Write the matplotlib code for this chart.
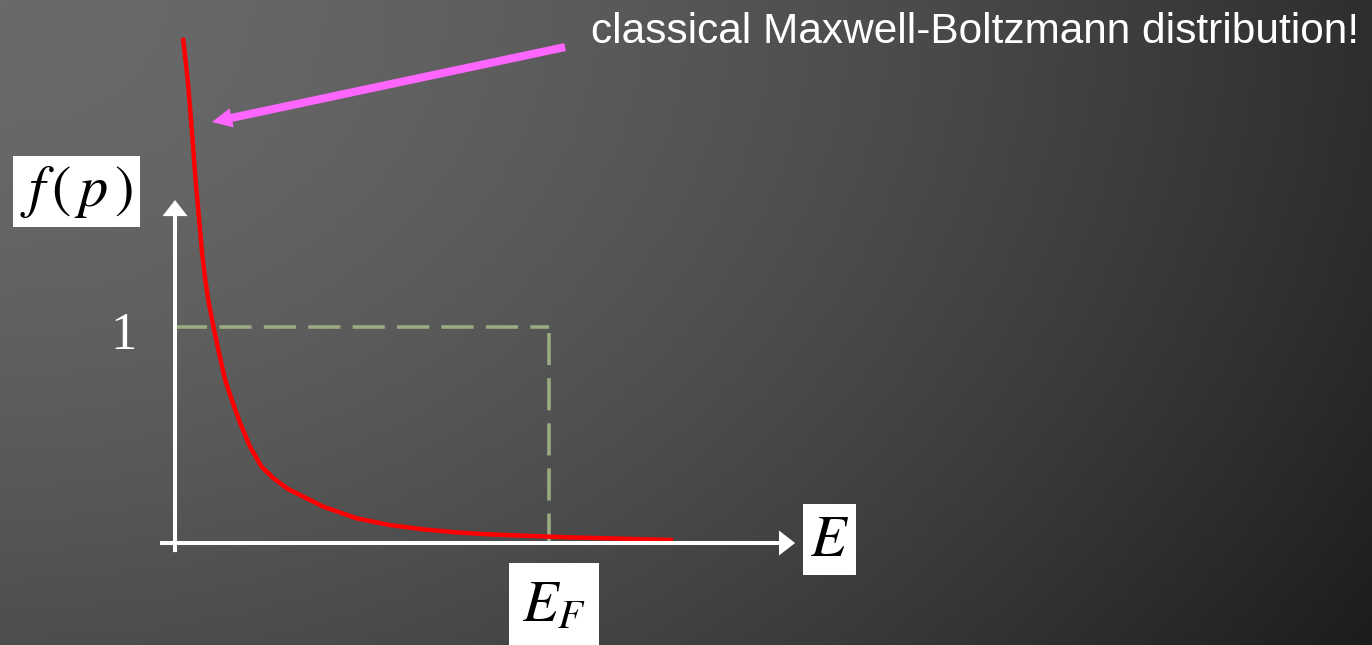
import numpy as np
import matplotlib.pyplot as plt

plt.rcParams['mathtext.fontset'] = 'stix'

# curve: energy in units of E_F, occupation f
energy = [0.022, 0.034, 0.045, 0.055, 0.067, 0.073, 0.081, 0.089, 0.103, 0.116,
          0.134, 0.152, 0.174, 0.201, 0.232, 0.263, 0.302, 0.397, 0.486, 0.575,
          0.664, 0.753, 0.842, 0.931, 1.056, 1.326]
occupation = [2.329, 2.144, 1.912, 1.681, 1.449, 1.333, 1.218, 1.125, 1.000, 0.894,
              0.755, 0.662, 0.556, 0.444, 0.352, 0.300, 0.250, 0.168, 0.114, 0.083,
              0.063, 0.049, 0.040, 0.034, 0.026, 0.014]
fermi_energy = 1.0
fermi_level = 1.0
title = 'classical Maxwell-Boltzmann distribution!'

fig = plt.figure(figsize=(13.72, 6.45), dpi=100)

# background gradient (slide style)
bg = fig.add_axes([0, 0, 1, 1])
xx, yy = np.meshgrid(np.linspace(0, 1, 400), np.linspace(0, 1, 200))
r = np.sqrt(xx**2 + 0.393 * yy**2)
shade = (106 - 60 * r**1.585) / 255.0
shade = np.clip(shade, 0.1, 1)
bg.imshow(np.dstack([shade, shade, shade]), aspect='auto', extent=[0, 1, 1, 0])
bg.set_xlim(0, 1)
bg.set_ylim(1, 0)
bg.axis('off')

ax = fig.add_axes([0, 0, 1, 1])
ax.patch.set_alpha(0)
ax.set_xlim(-0.4679, 3.2005)
ax.set_ylim(-0.4722, 2.5139)
ax.axis('off')

# axes with arrow heads
axis_arrow = dict(arrowstyle='simple,head_length=0.58,head_width=0.9,tail_width=0.145',
                  mutation_scale=20, fc='white', ec='white', lw=0,
                  shrinkA=0, shrinkB=0)
ax.annotate('', xy=(1.658, 0), xytext=(-0.04, 0), arrowprops=axis_arrow)
ax.annotate('', xy=(0, 1.588), xytext=(0, -0.042), arrowprops=axis_arrow)

# dashed box for the step at E_F
ax.plot([0, fermi_energy], [fermi_level, fermi_level], color='#9aab82', lw=2.6,
        dashes=(8.9, 3.4))
ax.plot([fermi_energy, fermi_energy], [fermi_level - 0.03, 0], color='#9aab82', lw=2.6,
        dashes=(8.9, 3.6))

# the distribution
ax.plot(energy, occupation, color='#ff0000', lw=3.2, solid_joinstyle='round')

# pink pointer
ax.annotate('', xy=(0.099, 1.949), xytext=(1.043, 2.296),
            arrowprops=dict(arrowstyle='simple,head_length=0.72,head_width=0.7,tail_width=0.29',
                            mutation_scale=20, fc='#ff66ff', ec='#ff66ff', lw=0,
                            shrinkA=0, shrinkB=0))

ax.text(1.1136, 2.315, title, color='white', fontsize=30.5,
        family='Liberation Sans', ha='left', va='baseline')

# labels in white boxes
box = dict(boxstyle='square,pad=0.12', fc='white', ec='none')
ax.text(-0.263, 1.627, r'$f\,(\,p\,)$', fontsize=42, color='black',
        ha='center', va='center', bbox=box)
ax.text(1.749, 0.0185, r'$E$', fontsize=42, color='black',
        ha='center', va='center', bbox=box)
ax.text(1.013, -0.285, r'$E_F$', fontsize=42, color='black',
        ha='center', va='center', bbox=dict(boxstyle='square,pad=0.22', fc='white', ec='none'))
ax.text(-0.137, 0.96, '1', fontsize=38, color='white', family='Liberation Serif',
        ha='center', va='center')

fig.savefig('out.png', dpi=100)
